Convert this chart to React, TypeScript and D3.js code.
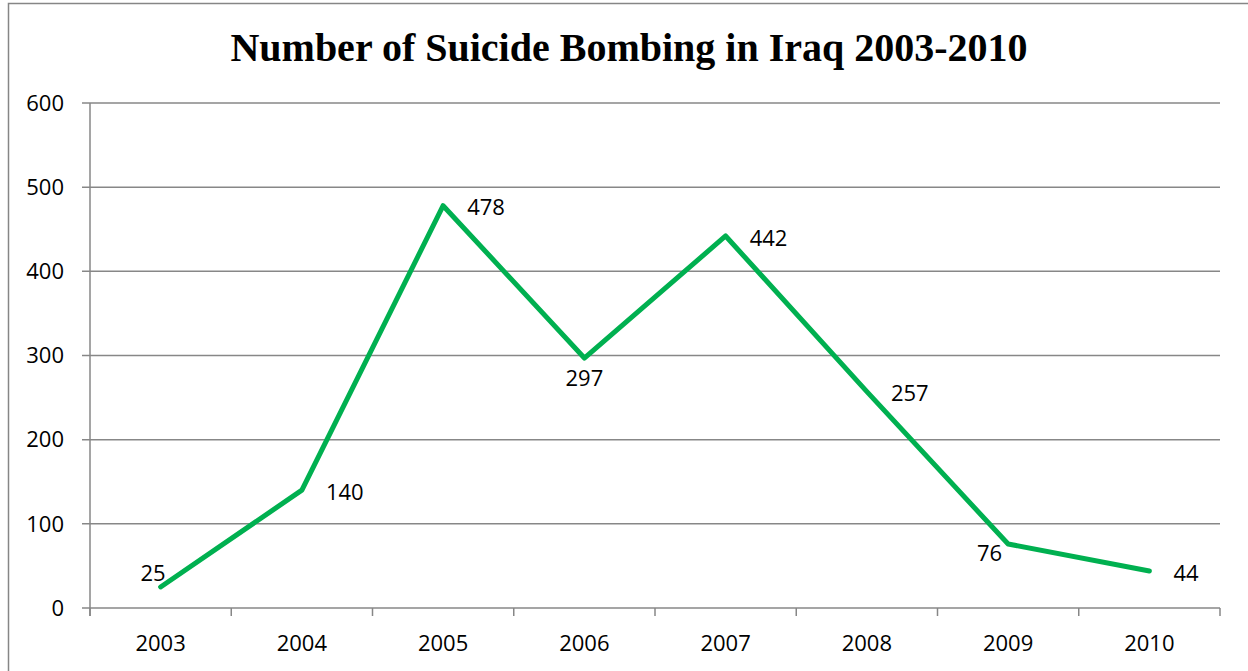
import React from "react";
import * as d3 from "d3";

const years = ["2003", "2004", "2005", "2006", "2007", "2008", "2009", "2010"];
const bombings = [25, 140, 478, 297, 442, 257, 76, 44];
const labelPlacement = ["above", "right", "right", "below", "right", "right", "left", "right"];
const yTicks = [0, 100, 200, 300, 400, 500, 600];
const title = "Number of Suicide Bombing in Iraq 2003-2010";

const W = 1248;
const H = 671;
const plot = { left: 90, right: 1220, top: 103, bottom: 608 };
const green = "#00B050";
const grid = "#878787";
const font = "'Open Sans', 'Liberation Sans', sans-serif";

export default function App() {
  const x = d3.scaleBand<string>().domain(years).range([plot.left, plot.right]).padding(0);
  const y = d3.scaleLinear().domain([0, 600]).range([plot.bottom, plot.top]);
  const cx = (yr: string) => (x(yr) as number) + x.bandwidth() / 2;
  const line = d3
    .line<number>()
    .x((_, i) => cx(years[i]))
    .y((v) => y(v));
  const boundaries = years.map((yr) => x(yr) as number).concat([plot.right]);

  return (
    <svg
      width={W}
      height={H}
      style={{ position: "absolute", left: 0, top: 0, background: "#fff" }}
    >
      <rect x={8.5} y={3.5} width={W + 20} height={H + 20} fill="#fff" stroke="#868686" strokeWidth={1.5} />
      <text
        x={629}
        y={61}
        textAnchor="middle"
        fontFamily="'Liberation Serif', 'Times New Roman', serif"
        fontWeight="bold"
        fontSize={40}
        fill="#000"
      >
        {title}
      </text>
      {yTicks.map((t) => (
        <g key={t}>
          <line x1={plot.left - 8} x2={plot.right} y1={y(t)} y2={y(t)} stroke={grid} strokeWidth={1.5} />
          <text
            x={64}
            y={y(t)}
            dy="0.35em"
            textAnchor="end"
            fontFamily={font}
            fontSize={22}
            fill="#000"
          >
            {t}
          </text>
        </g>
      ))}
      <line x1={plot.left} x2={plot.left} y1={plot.top} y2={plot.bottom + 8} stroke={grid} strokeWidth={1.5} />
      {boundaries.map((b, i) => (
        <line key={i} x1={b} x2={b} y1={plot.bottom} y2={plot.bottom + 8} stroke={grid} strokeWidth={1.5} />
      ))}
      {years.map((yr) => (
        <text
          key={yr}
          x={cx(yr)}
          y={643}
          dy="0.35em"
          textAnchor="middle"
          fontFamily={font}
          fontSize={22}
          fill="#000"
        >
          {yr}
        </text>
      ))}
      <path
        d={line(bombings) || ""}
        fill="none"
        stroke={green}
        strokeWidth={5}
        strokeLinejoin="round"
        strokeLinecap="round"
      />
      {bombings.map((v, i) => {
        const px = cx(years[i]);
        const py = y(v);
        const pos = labelPlacement[i];
        let tx = px + 24;
        let ty = py + 2;
        let anchor: "start" | "middle" | "end" = "start";
        if (pos === "below") {
          tx = px;
          ty = py + 20;
          anchor = "middle";
        } else if (pos === "above") {
          tx = px + 5;
          ty = py - 14;
          anchor = "end";
        } else if (pos === "left") {
          tx = px - 6;
          ty = py + 9;
          anchor = "end";
        }
        return (
          <text
            key={i}
            x={tx}
            y={ty}
            dy="0.35em"
            textAnchor={anchor}
            fontFamily={font}
            fontSize={22}
            fill="#000"
          >
            {v}
          </text>
        );
      })}
    </svg>
  );
}
